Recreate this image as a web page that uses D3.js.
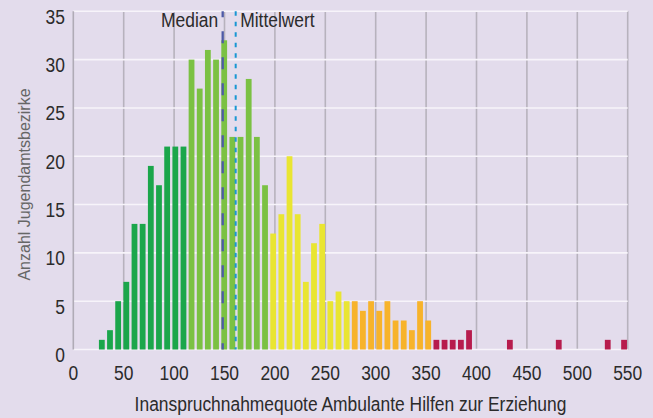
<!DOCTYPE html>
<html><head><meta charset="utf-8">
<script src="https://cdn.jsdelivr.net/npm/d3@7"></script>
<style>
html,body{margin:0;padding:0;background:#e3dcec;}
svg{display:block;font-family:"Liberation Sans",Arial,sans-serif;}
</style></head>
<body><svg id="c" width="653" height="418"></svg>
<script>
// bin centres (Inanspruchnahmequote) and number of Jugendamtsbezirke
const binCenters = [28.3,36.4,44.5,52.6,60.7,68.8,76.9,85.0,93.1,101.2,109.3,
  117.3,125.4,133.5,141.6,149.7,157.8,165.9,174.0,182.1,190.2,
  198.3,206.4,214.5,222.6,230.7,238.8,246.9,255.0,263.1,271.2,
  279.2,287.3,295.4,303.5,311.6,319.7,327.8,335.9,344.0,352.1,
  360.2,368.3,376.4,384.5,392.6,433.1,481.6,530.2,546.4];
const counts = [1,2,5,7,13,13,19,17,21,21,21,
  30,27,31,30,32,22,22,28,22,17,
  12,14,20,14,7,11,13,5,6,5,
  5,4,5,4,5,3,3,2,5,3,
  1,1,1,1,2,1,1,1,1];
const classBreaks = [113, 194, 275, 356];
const classColors = ["#1ba64b","#7bc143","#e9e532","#f7b32b","#b71c4d"];
const xTicks = [0,50,100,150,200,250,300,350,400,450,500,550];
const yTicks = [0,5,10,15,20,25,30,35];
const median = 148.2, mean = 161.1;
const xTitle = "Inanspruchnahmequote Ambulante Hilfen zur Erziehung";
const yTitle = "Anzahl Jugendamtsbezirke";

const svg = d3.select("#c");
const x = d3.scaleLinear().domain([0,550]).range([73.3,627.7]);
const y = d3.scaleLinear().domain([0,35]).range([349.5,11.3]);
const color = d3.scaleThreshold().domain(classBreaks).range(classColors);
const barW = 5.8;
const NARROW = 0.83;

svg.append("rect").attr("width",653).attr("height",418).attr("fill","#e3dcec");

// vertical gridlines
svg.append("g").selectAll("line").data(xTicks.slice(1)).join("line")
  .attr("x1",d=>x(d)).attr("x2",d=>x(d)).attr("y1",y(35)).attr("y2",y(0))
  .attr("stroke","#b7b2bd").attr("stroke-width",1.6);
// horizontal gridlines
svg.append("g").selectAll("line").data(yTicks).join("line")
  .attr("x1",x(0)).attr("x2",x(550)).attr("y1",d=>y(d)).attr("y2",d=>y(d))
  .attr("stroke","#f7f4fa").attr("stroke-width",1.6);
// y axis line
svg.append("line").attr("x1",x(0)).attr("x2",x(0)).attr("y1",y(35)).attr("y2",y(0))
  .attr("stroke","#b0abb6").attr("stroke-width",1.6);

// bars
svg.append("g").selectAll("rect").data(binCenters).join("rect")
  .attr("x",d=>x(d)-barW/2).attr("width",barW)
  .attr("y",(d,i)=>y(counts[i])).attr("height",(d,i)=>y(0)-y(counts[i]))
  .attr("fill",d=>color(d));

// median / mean lines
svg.append("line").attr("x1",x(median)).attr("x2",x(median)).attr("y1",y(35)).attr("y2",y(0))
  .attr("stroke","#4d5aa6").attr("stroke-width",2.3).attr("stroke-dasharray","12,14").attr("stroke-dashoffset",6);
svg.append("line").attr("x1",x(mean)).attr("x2",x(mean)).attr("y1",y(35)).attr("y2",y(0))
  .attr("stroke","#1997d3").attr("stroke-width",2).attr("stroke-dasharray","4.5,6");

function ntext(sel, px, py, anchor, size, txt){
  return sel.append("text").attr("transform",`translate(${px},${py}) scale(${NARROW},1)`)
    .attr("text-anchor",anchor).attr("font-size",size).attr("fill","#2b2b2b").text(txt);
}
ntext(svg, x(median)-4.5, 27, "end", 21, "Median");
ntext(svg, x(mean)+4.5, 27, "start", 21, "Mittelwert");

// tick labels
const gy = svg.append("g");
yTicks.forEach(d=>ntext(gy, 65, y(d)+12.5, "end", 21, d));
const gx = svg.append("g");
xTicks.forEach(d=>ntext(gx, x(d), 379.5, "middle", 21, d));

ntext(svg, 350.5, 410.5, "middle", 21, xTitle);
svg.append("text").attr("transform","translate(30,184.5) rotate(-90)").attr("text-anchor","middle")
  .attr("font-size",16).attr("fill","#666").text(yTitle);
</script></body></html>
